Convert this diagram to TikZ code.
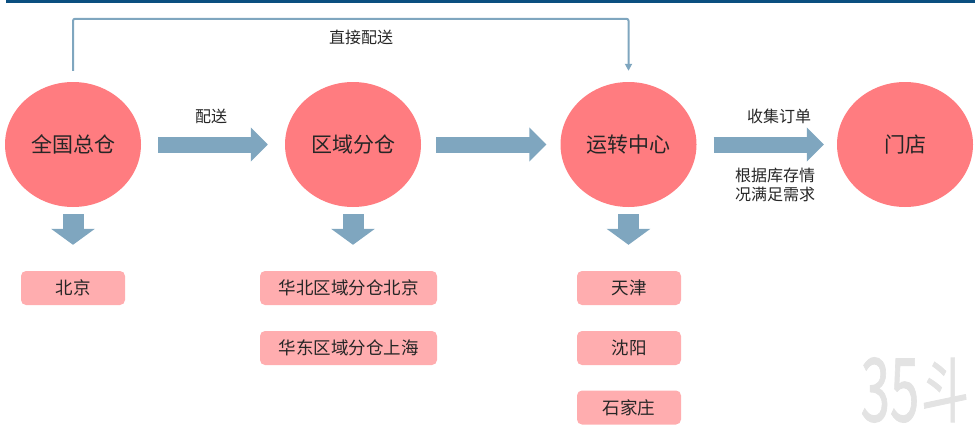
\documentclass[tikz,border=0pt]{standalone}
\usepackage{fontspec}
\setmainfont{Noto Sans CJK SC}
\newfontfamily\markfont[FakeBold=1.2]{Noto Sans CJK SC}
\usetikzlibrary{arrows.meta,shapes.geometric}
\definecolor{flowblue}{HTML}{7FA6BF}
\definecolor{hubred}{HTML}{FF7C80}
\definecolor{cityred}{HTML}{FFADAF}
\definecolor{topbar}{HTML}{0B4F80}
\definecolor{markgray}{HTML}{E3E3E3}
\tikzset{
	hub/.style={ellipse,fill=hubred,minimum width=136pt,minimum height=125pt,inner sep=0pt,text=black!85,font=\fontsize{21}{24}\selectfont},
	city/.style={rectangle,rounded corners=5pt,fill=cityred,minimum height=34pt,inner sep=0pt,text=black!85,font=\fontsize{17.5}{21}\selectfont},
	note/.style={text=black!85,align=center,inner sep=0pt,font=\fontsize{16}{19}\selectfont},
	bigarrow/.style={draw=flowblue,line width=16pt,-{Triangle[length=17pt,width=33pt,fill=flowblue]}},
	downarrow/.style={draw=flowblue,line width=21pt,-{Triangle[length=16pt,width=43pt,fill=flowblue]}},
	elbow/.style={draw=flowblue,line width=2pt,rounded corners=2pt,-{Triangle[length=7pt,width=7pt,fill=flowblue]}}
}
\begin{document}
\begin{tikzpicture}[x=1pt,y=-1pt]
	\useasboundingbox (0,0) rectangle (980,434);
	\fill[topbar] (6,0) rectangle (975,3);
	\node[hub] (quanguo) at (73,144.5) {全国总仓};
	\node[hub] (quyu) at (353,144.5) {区域分仓};
	\node[hub] (yunzhuan) at (628.5,144.5) {运转中心};
	\node[hub] (mendian) at (905,144.5) {门店};
	\node[city,minimum width=104pt] (beijing) at (73,288) {北京};
	\node[city,minimum width=177pt] (huabei) at (348.5,288) {华北区域分仓北京};
	\node[city,minimum width=177pt] (huadong) at (348.5,348) {华东区域分仓上海};
	\node[city,minimum width=104pt] (tianjin) at (629,288) {天津};
	\node[city,minimum width=104pt] (shenyang) at (629,348) {沈阳};
	\node[city,minimum width=104pt] (shijiazhuang) at (629,407.5) {石家庄};
	\draw[bigarrow,shorten <=17pt,shorten >=17pt] (quanguo) -- (quyu);
	\draw[bigarrow,shorten <=15pt,shorten >=14pt] (quyu) -- (yunzhuan);
	\draw[bigarrow,shorten <=17pt,shorten >=13pt] (yunzhuan) -- (mendian);
	\draw[downarrow,shorten <=7pt,shorten >=26pt] (quanguo.south) -- (beijing.north);
	\draw[downarrow,shorten <=7pt,shorten >=26pt] (quyu.south) -- (quyu.south |- huabei.north);
	\draw[downarrow,shorten <=7pt,shorten >=26pt] (yunzhuan.south) -- (yunzhuan.south |- tianjin.north);
	\draw[elbow,shorten <=11pt,shorten >=11pt] (quanguo.north) -- ++(0,-63) -| (yunzhuan.north);
	\node[note] (zhijie) at (361,37) {直接配送};
	\node[note] (peisong) at (211,116) {配送};
	\node[note] (shouji) at (779,116) {收集订单};
	\node[note] (genju) at (775,184.5) {根据库存情\\况满足需求};
	% watermark
	\node[text=markgray,inner sep=0pt,xscale=0.6,font=\markfont\fontsize{88}{88}\selectfont] (mark) at (890,390) {35};
	\node[text=markgray,inner sep=0pt,xscale=0.85,yscale=1.25,font=\markfont\fontsize{56}{56}\selectfont] (dou) at (945,390) {斗};
\end{tikzpicture}
\end{document}
